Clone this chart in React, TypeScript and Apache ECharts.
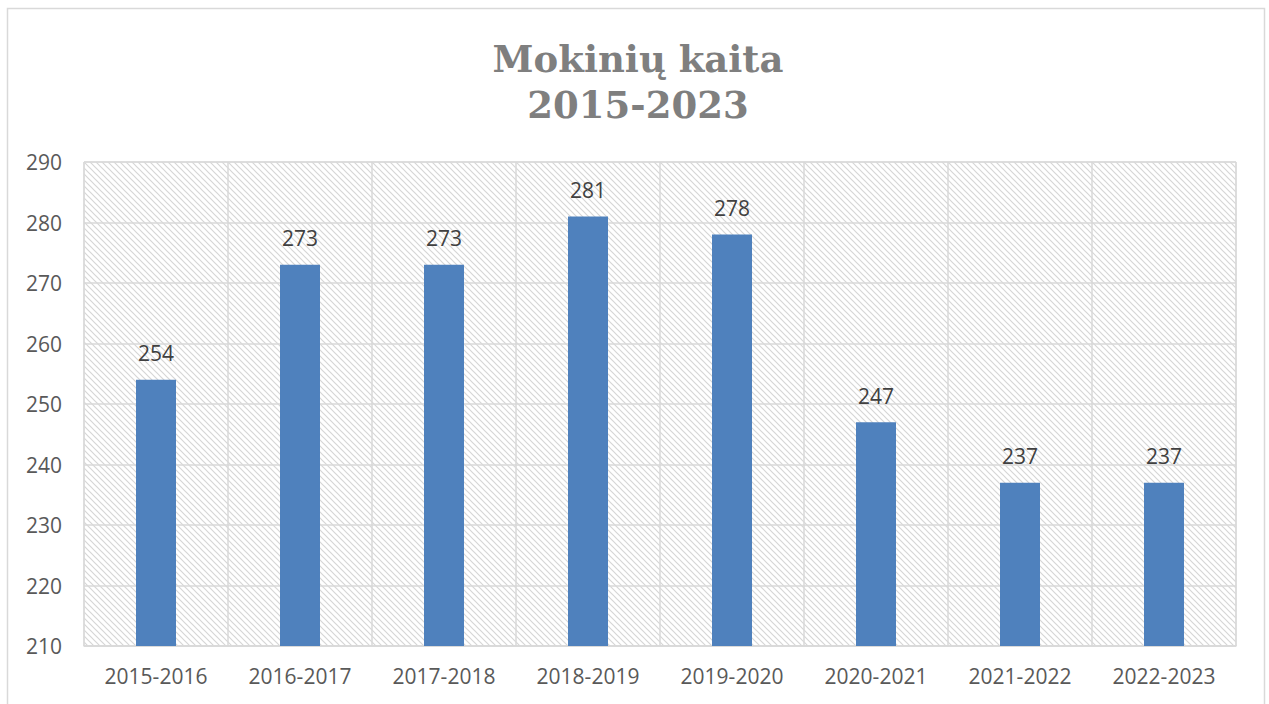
import React, { useEffect, useRef } from "react";
import * as echarts from "echarts";

const categories = ["2015-2016", "2016-2017", "2017-2018", "2018-2019", "2019-2020", "2020-2021", "2021-2022", "2022-2023"];
const students = [254, 273, 273, 281, 278, 247, 237, 237];
const titleLines = ["Mokinių kaita", "2015-2023"];

function makeHatch(): string {
  const c = document.createElement("canvas");
  c.width = 6;
  c.height = 6;
  const ctx = c.getContext("2d")!;
  ctx.fillStyle = "#ffffff";
  ctx.fillRect(0, 0, 6, 6);
  ctx.strokeStyle = "#d6d6d6";
  ctx.lineWidth = 1.2;
  ctx.beginPath();
  ctx.moveTo(-1, -1);
  ctx.lineTo(7, 7);
  ctx.moveTo(-1, 5);
  ctx.lineTo(1, 7);
  ctx.moveTo(5, -1);
  ctx.lineTo(7, 1);
  ctx.stroke();
  return c.toDataURL();
}

export default function App() {
  const ref = useRef<HTMLDivElement>(null);
  useEffect(() => {
    if (!ref.current) return;
    const chart = echarts.init(ref.current, null, { renderer: "svg" });
    const hatch = makeHatch();
    chart.setOption({
      animation: false,
      backgroundColor: "#ffffff",
      title: {
        text: titleLines.join("\n"),
        left: 633,
        textAlign: "center",
        top: 31,
        textStyle: {
          fontFamily: "DejaVu Serif",
          fontWeight: "bold",
          fontSize: 37,
          lineHeight: 46,
          color: "#7f7f7f",
        },
      },
      graphic: [
        {
          type: "rect",
          shape: { x: 7.5, y: 8.5, width: 1257, height: 730 },
          style: { fill: "none", stroke: "#d9d9d9", lineWidth: 1.5 },
          silent: true,
        },
      ],
      grid: {
        left: 84,
        right: 33,
        top: 162,
        bottom: 58,
        show: true,
        backgroundColor: { image: hatch, repeat: "repeat" } as any,
        borderColor: "#d9d9d9",
        borderWidth: 1,
      },
      xAxis: {
        type: "category",
        data: categories,
        axisTick: { show: false },
        axisLine: { show: true, lineStyle: { color: "#d9d9d9", width: 1.5 } },
        splitLine: { show: true, lineStyle: { color: "#d9d9d9", width: 1.5 } },
        axisLabel: { fontFamily: "Open Sans", fontSize: 21, color: "#595959", margin: 19 },
      },
      yAxis: {
        type: "value",
        min: 210,
        max: 290,
        interval: 10,
        axisLine: { show: false },
        axisTick: { show: false },
        splitLine: { lineStyle: { color: "#d9d9d9", width: 1.5 } },
        axisLabel: { fontFamily: "Open Sans", fontSize: 21, color: "#595959", margin: 22 },
      },
      series: [
        {
          type: "bar",
          data: students,
          barWidth: 40,
          itemStyle: { color: "#4f81bd" },
          label: {
            show: true,
            position: "top",
            distance: 16,
            fontFamily: "Open Sans",
            fontSize: 21,
            color: "#404040",
          },
        },
      ],
    });
    return () => chart.dispose();
  }, []);
  return (
    <div
      ref={ref}
      style={{ position: "absolute", left: 0, top: 0, width: 1269, height: 704 }}
    />
  );
}
